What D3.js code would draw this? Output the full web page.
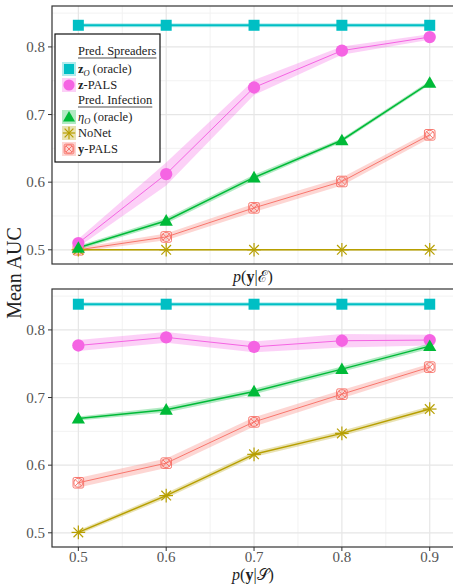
<!DOCTYPE html>
<html>
<head>
<meta charset="utf-8">
<script src="https://cdn.jsdelivr.net/npm/d3@7"></script>
<style>
  body { margin: 0; background: #fff; }
  svg { display: block; }
</style>
</head>
<body>
<div id="chart"></div>
<script>
// x values shared by both panels
const xValues = [0.5, 0.6, 0.7, 0.8, 0.9];
const xTicks = [0.5, 0.6, 0.7, 0.8, 0.9];
const yTicks = [0.5, 0.6, 0.7, 0.8];

// top panel: p(y|E)
const zOracleE = [0.832, 0.832, 0.832, 0.832, 0.832];
const zOracleEErr = [0.003, 0.003, 0.003, 0.003, 0.003];
const zPalsE = [0.510, 0.612, 0.740, 0.7945, 0.8146];
const zPalsEErr = [0.006, 0.017, 0.011, 0.006, 0.004];
const etaOracleE = [0.503, 0.543, 0.607, 0.662, 0.747];
const etaOracleEErr = [0.003, 0.004, 0.004, 0.003, 0.003];
const noNetE = [0.5, 0.5, 0.5, 0.5, 0.5];
const noNetEErr = [0.001, 0.001, 0.001, 0.001, 0.001];
const yPalsE = [0.500, 0.519, 0.562, 0.601, 0.670];
const yPalsEErr = [0.003, 0.005, 0.006, 0.006, 0.005];

// bottom panel: p(y|S)
const zOracleS = [0.838, 0.838, 0.838, 0.838, 0.838];
const zOracleSErr = [0.003, 0.003, 0.003, 0.003, 0.003];
const zPalsS = [0.777, 0.789, 0.775, 0.784, 0.785];
const zPalsSErr = [0.008, 0.008, 0.008, 0.010, 0.008];
const etaOracleS = [0.669, 0.682, 0.709, 0.742, 0.776];
const etaOracleSErr = [0.003, 0.004, 0.004, 0.004, 0.004];
const noNetS = [0.5006, 0.555, 0.616, 0.647, 0.683];
const noNetSErr = [0.003, 0.004, 0.004, 0.004, 0.004];
const yPalsS = [0.574, 0.603, 0.664, 0.705, 0.745];
const yPalsSErr = [0.007, 0.007, 0.007, 0.006, 0.005];

const colors = {
  zOracle: '#00BFC4', zPals: '#F564E3', etaOracle: '#00BA38',
  noNet: '#B79F00', yPals: '#F8766D'
};
const lineWidths = { zOracle: 2, zPals: 1, etaOracle: 1.5, noNet: 1.5, yPals: 1 };
const serif = '"Liberation Serif", "DejaVu Serif", serif';

const width = 453, height = 587;
const svg = d3.select('#chart').append('svg')
  .attr('width', width).attr('height', height)
  .attr('font-family', serif);

const x = d3.scaleLinear().domain([0.47, 0.9265]).range([52, 453]);

function drawMarker(g, key, cx, cy, s) {
  const c = colors[key];
  const m = g.append('g').attr('transform', `translate(${cx},${cy})`);
  if (key === 'zOracle') {
    m.append('path').attr('d', d3.symbol(d3.symbolSquare, s * s)()).attr('fill', c);
  } else if (key === 'zPals') {
    m.append('circle').attr('r', s * 0.56).attr('fill', c);
  } else if (key === 'etaOracle') {
    const h = s;
    m.append('path').attr('d', `M0,${-h * 0.6}L${h * 0.6},${h * 0.45}L${-h * 0.6},${h * 0.45}Z`).attr('fill', c);
  } else if (key === 'noNet') {
    const r = s * 0.62;
    [0, 45, 90, 135].forEach(a => {
      const rad = a * Math.PI / 180;
      m.append('line')
        .attr('x1', -r * Math.cos(rad)).attr('y1', -r * Math.sin(rad))
        .attr('x2', r * Math.cos(rad)).attr('y2', r * Math.sin(rad))
        .attr('stroke', c).attr('stroke-width', 1.2);
    });
  } else {
    const r = s * 0.48;
    m.append('rect').attr('x', -r).attr('y', -r).attr('width', 2 * r).attr('height', 2 * r)
      .attr('rx', r * 0.3)
      .attr('fill', 'none').attr('stroke', c).attr('stroke-width', 1);
    m.append('circle').attr('r', r * 0.85).attr('fill', 'none').attr('stroke', c).attr('stroke-width', 1);
    m.append('path').attr('d', `M${-r * 0.7},${-r * 0.7}L${r * 0.7},${r * 0.7}M${r * 0.7},${-r * 0.7}L${-r * 0.7},${r * 0.7}`)
      .attr('stroke', c).attr('stroke-width', 1);
  }
}

function drawPanel(top, bottom, data, showXAxis, xTitleParts, xTitleY) {
  const y = d3.scaleLinear().domain([0.479, 0.8605]).range([bottom, top]);
  const g = svg.append('g');

  // minor grid
  [0.55, 0.65, 0.75, 0.85].forEach(v => {
    g.append('line').attr('x1', 52).attr('x2', 453).attr('y1', y(v)).attr('y2', y(v))
      .attr('stroke', '#F2F2F2').attr('stroke-width', 1);
    g.append('line').attr('x1', x(v)).attr('x2', x(v)).attr('y1', top).attr('y2', bottom)
      .attr('stroke', '#F2F2F2').attr('stroke-width', 1);
  });
  // major grid
  yTicks.forEach(v => {
    g.append('line').attr('x1', 52).attr('x2', 453).attr('y1', y(v)).attr('y2', y(v))
      .attr('stroke', '#E6E6E6').attr('stroke-width', 1.2);
  });
  xTicks.forEach(v => {
    g.append('line').attr('x1', x(v)).attr('x2', x(v)).attr('y1', top).attr('y2', bottom)
      .attr('stroke', '#E6E6E6').attr('stroke-width', 1.2);
  });

  const drawOrder = ['yPals', 'noNet', 'zPals', 'etaOracle', 'zOracle'];
  const area = d3.area().x(d => x(d.x)).y0(d => y(d.lo)).y1(d => y(d.hi));
  const line = d3.line().x(d => x(d.x)).y(d => y(d.v));

  drawOrder.forEach(key => {
    const pts = xValues.map((xv, i) => ({
      x: xv, v: data[key].vals[i],
      lo: data[key].vals[i] - data[key].err[i], hi: data[key].vals[i] + data[key].err[i]
    }));
    g.append('path').datum(pts).attr('d', area)
      .attr('fill', colors[key]).attr('fill-opacity', 0.3);
    g.append('path').datum(pts).attr('d', line)
      .attr('fill', 'none').attr('stroke', colors[key]).attr('stroke-width', lineWidths[key]);
  });
  drawOrder.forEach(key => {
    xValues.forEach((xv, i) => drawMarker(g, key, x(xv), y(data[key].vals[i]), 11));
  });

  // border (right edge falls outside the picture)
  g.append('rect').attr('x', 52).attr('y', top).attr('width', 410).attr('height', bottom - top)
    .attr('fill', 'none').attr('stroke', '#333').attr('stroke-width', 1.2);

  // y axis
  yTicks.forEach(v => {
    g.append('line').attr('x1', 48).attr('x2', 52).attr('y1', y(v)).attr('y2', y(v))
      .attr('stroke', '#333').attr('stroke-width', 1);
    g.append('text').attr('x', 45).attr('y', y(v)).attr('dy', '0.35em')
      .attr('text-anchor', 'end').attr('font-size', 15).attr('fill', '#555')
      .text(d3.format('.1f')(v));
  });

  if (showXAxis) {
    xTicks.forEach(v => {
      g.append('line').attr('x1', x(v)).attr('x2', x(v)).attr('y1', bottom).attr('y2', bottom + 4)
        .attr('stroke', '#333').attr('stroke-width', 1);
      g.append('text').attr('x', x(v)).attr('y', bottom + 15)
        .attr('text-anchor', 'middle').attr('font-size', 15).attr('fill', '#555')
        .text(d3.format('.1f')(v));
    });
  }

  const t = svg.append('text').attr('x', 253).attr('y', xTitleY)
    .attr('text-anchor', 'middle').attr('font-size', 16).attr('fill', '#222');
  xTitleParts.forEach(p => {
    const ts = t.append('tspan').text(p.t);
    if (p.i) ts.attr('font-style', 'italic');
    if (p.b) ts.attr('font-weight', 'bold');
    if (p.f) ts.attr('font-family', p.f);
  });
}

const topData = {
  zOracle: { vals: zOracleE, err: zOracleEErr },
  zPals: { vals: zPalsE, err: zPalsEErr },
  etaOracle: { vals: etaOracleE, err: etaOracleEErr },
  noNet: { vals: noNetE, err: noNetEErr },
  yPals: { vals: yPalsE, err: yPalsEErr }
};
const bottomData = {
  zOracle: { vals: zOracleS, err: zOracleSErr },
  zPals: { vals: zPalsS, err: zPalsSErr },
  etaOracle: { vals: etaOracleS, err: etaOracleSErr },
  noNet: { vals: noNetS, err: noNetSErr },
  yPals: { vals: yPalsS, err: yPalsSErr }
};

drawPanel(6, 264, topData, false,
  [{ t: 'p', i: true }, { t: '(' }, { t: 'y', b: true }, { t: '|' }, { t: 'ℰ', f: 'DejaVu Serif' }, { t: ')' }], 282);
drawPanel(289, 547, bottomData, true,
  [{ t: 'p', i: true }, { t: '(' }, { t: 'y', b: true }, { t: '|' }, { t: '𝒮', f: 'DejaVu Serif' }, { t: ')' }], 580);

// y axis title
svg.append('text').attr('transform', 'translate(21,273) rotate(-90)')
  .attr('text-anchor', 'middle').attr('font-size', 20).attr('fill', '#222')
  .text('Mean AUC');

// legend
const legend = svg.append('g');
legend.append('rect').attr('x', 55).attr('y', 34).attr('width', 105).attr('height', 128)
  .attr('fill', '#fff').attr('stroke', '#111').attr('stroke-width', 1.2);

const headers = [{ t: 'Pred. Spreaders', y: 51 }, { t: 'Pred. Infection', y: 100 }];
headers.forEach(h => {
  const ht = legend.append('text').attr('x', 78).attr('y', h.y).attr('dy', '0.35em')
    .attr('font-size', 12.5).attr('fill', '#222').text(h.t);
  const w = ht.node().getComputedTextLength();
  legend.append('line').attr('x1', 78).attr('x2', 78 + w).attr('y1', h.y + 7).attr('y2', h.y + 7)
    .attr('stroke', '#222').attr('stroke-width', 0.8);
});

const legendItems = [
  { key: 'zOracle', y: 69, parts: [{ t: 'z', b: true }, { t: 'O', i: true, sub: true }, { t: ' (oracle)' }] },
  { key: 'zPals', y: 85, parts: [{ t: 'z', b: true }, { t: '-PALS' }] },
  { key: 'etaOracle', y: 117, parts: [{ t: 'η', i: true }, { t: 'O', i: true, sub: true }, { t: ' (oracle)' }] },
  { key: 'noNet', y: 133, parts: [{ t: 'NoNet' }] },
  { key: 'yPals', y: 149, parts: [{ t: 'y', b: true }, { t: '-PALS' }] }
];
legendItems.forEach(it => {
  legend.append('rect').attr('x', 62).attr('y', it.y - 7).attr('width', 14).attr('height', 14)
    .attr('fill', colors[it.key]).attr('fill-opacity', 0.3);
  drawMarker(legend, it.key, 69, it.y, 10);
  const t = legend.append('text').attr('x', 78).attr('y', it.y).attr('dy', '0.35em')
    .attr('font-size', 12.5).attr('fill', '#222');
  it.parts.forEach(p => {
    const ts = t.append('tspan').text(p.t);
    if (p.i) ts.attr('font-style', 'italic');
    if (p.b) ts.attr('font-weight', 'bold');
    if (p.sub) ts.attr('font-size', 8.5).attr('dy', 3);
    else if (p.t.startsWith(' ')) ts.attr('dy', -3);
  });
});
</script>
</body>
</html>
